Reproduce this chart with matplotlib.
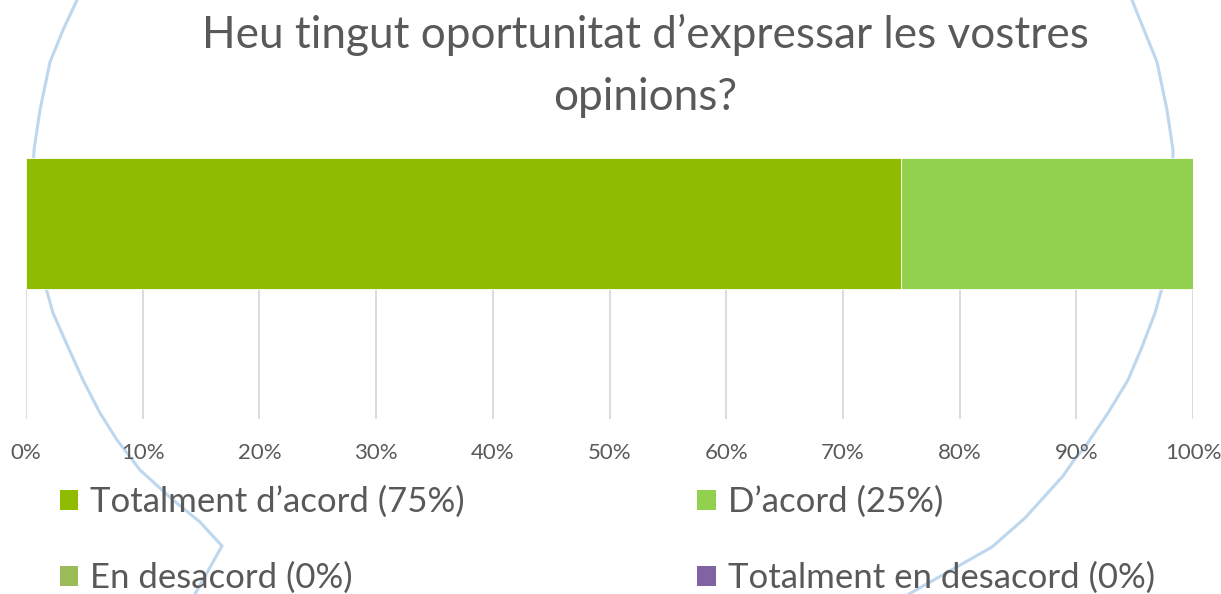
import matplotlib
matplotlib.use("Agg")
import matplotlib.pyplot as plt
from matplotlib.patches import Rectangle
from matplotlib.lines import Line2D

plt.rcParams['font.family'] = ['Lato', 'DejaVu Sans']

# ---- data ----
title_lines = ["Heu tingut oportunitat d\u2019expressar les vostres", "opinions?"]
series_names = ["Totalment d\u2019acord", "D\u2019acord", "En desacord", "Totalment en desacord"]
series_values = [75, 25, 0, 0]
series_colors = ["#8FBC00", "#92D050", "#9BBB59", "#8064A2"]
xtick_values = [0, 10, 20, 30, 40, 50, 60, 70, 80, 90, 100]
xtick_labels = [f"{v}%" for v in xtick_values]

TEXT = "#595959"
W, H = 1221, 594
fig = plt.figure(figsize=(W / 100, H / 100), dpi=100)

# decorative hand-drawn light-blue outline in the background (pixel coords)
left_curve = [(77, 0), (63, 30), (50, 62), (40, 110), (34, 150), (33, 175), (36, 230),
              (46, 288), (53, 313), (68, 347), (83, 380), (100, 413), (117, 440),
              (140, 470), (173, 500), (200, 522), (222, 546), (195, 594)]
right_curve = [(1132, 0), (1140, 20), (1157, 62), (1167, 110), (1173, 150), (1172, 200),
               (1167, 260), (1162, 288), (1155, 313), (1142, 347), (1128, 380),
               (1108, 413), (1085, 447), (1074, 460), (1063, 476), (1025, 518),
               (992, 547), (909, 594)]
for curve in (left_curve, right_curve):
    xs = [p[0] / W for p in curve]
    ys = [1 - p[1] / H for p in curve]
    fig.add_artist(Line2D(xs, ys, transform=fig.transFigure, color="#BDD7EE",
                          linewidth=2.2, zorder=0.5))

ax = fig.add_axes([26 / W, 1 - 419 / H, (1193 - 26) / W, (419 - 158) / H])
ax.set_facecolor("none")
ax.set_zorder(1)

left = 0
handles = []
for name, val, col in zip(series_names, series_values, series_colors):
    ax.barh(1.5, val, left=left, height=1.0, color=col, edgecolor="white",
            linewidth=0.6, zorder=3)
    left += val
    handles.append(Rectangle((0, 0), 1, 1, facecolor=col, edgecolor="none"))

ax.set_xlim(0, 100)
ax.set_ylim(0, 2)
ax.set_xticks(xtick_values)
ax.set_xticklabels(xtick_labels)
ax.set_yticks([])
ax.tick_params(axis='x', length=0, pad=17, labelsize=16, labelcolor=TEXT)
ax.grid(axis='x', color="#D9D9D9", linewidth=1.3, zorder=0)
for s in ax.spines.values():
    s.set_visible(False)

# title
fig.text(645 / W, 1 - 48 / H, title_lines[0], ha='center', va='baseline',
         fontsize=31.8, color=TEXT)
fig.text(645 / W, 1 - 110 / H, title_lines[1], ha='center', va='baseline',
         fontsize=31.8, color=TEXT)

labels = [f"{n} ({v}%)" for n, v in zip(series_names, series_values)]
# legend is filled row by row in the reference: reorder for matplotlib's column-major fill
order = [0, 2, 1, 3]
leg = fig.legend([handles[i] for i in order], [labels[i] for i in order], ncol=2,
                 loc='upper left', bbox_to_anchor=(60 / W, 1 - 486 / H), frameon=False,
                 fontsize=25, labelcolor=TEXT, handlelength=0.52, handleheight=0.52,
                 handletextpad=0.35, columnspacing=6.7, labelspacing=1.26,
                 borderaxespad=0, borderpad=0)
leg.set_zorder(2)

fig.savefig("out.png", dpi=100)
